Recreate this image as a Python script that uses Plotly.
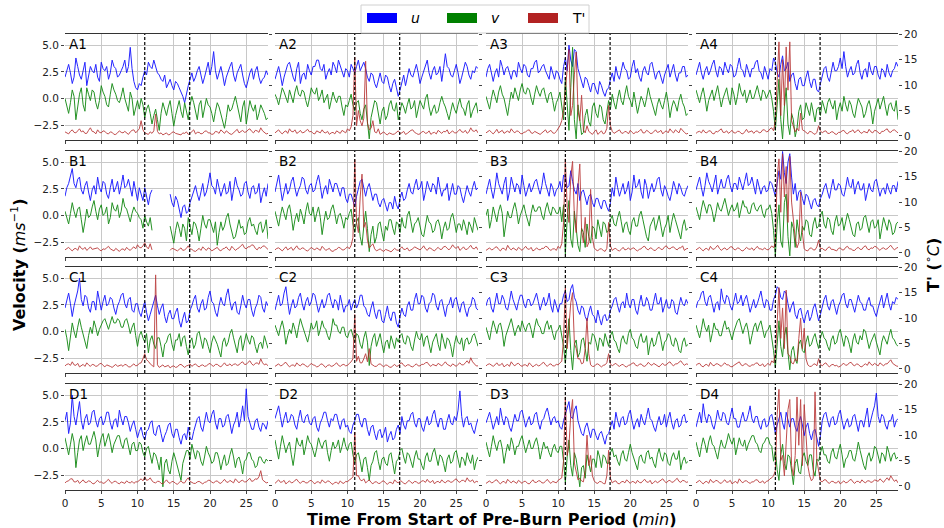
import numpy as np
import plotly.graph_objects as go
from plotly.subplots import make_subplots

# ---------------- data ----------------
# values stored in tenths: u, v in 0.1 m/s, T' in 0.1 degC ; one sample every 0.25 min from 0 to 28 min
row_letters = ["A", "B", "C", "D"]
col_numbers = ["1", "2", "3", "4"]
x_ticks = [0, 5, 10, 15, 20, 25]
vel_ticks = [-2.5, 0.0, 2.5, 5.0]
vel_ticktext = ["\u22122.5", "0.0", "2.5", "5.0"]
T_ticks = [0, 5, 10, 15, 20]
event_times = [11.0, 17.2]
legend_labels = ["<i>u</i>", "<i>v</i>", "T'"]
series_colors = ["#0000ff", "#008000", "#b22222"]
N = None

u_A1 = [20,26,32,24,14,20,38,30,22,18,28,34,12,22,30,26,24,32,20,16,34,28,26,30,18,24,36,30,28,20,22,26,30,36,24,30,48,28,16,10,8,14,12,20,26,22,34,30,28,36,30,24,22,18,16,22,10,14,18,12,8,16,14,10,6,2,-4,6,12,18,24,16,20,26,30,22,14,20,28,34,22,30,44,26,18,24,30,22,12,20,26,30,34,22,16,24,28,32,22,14,10,18,24,28,18,26,30,20,14,18,20,26,22]
v_A1 = [0,-6,-14,-4,8,2,-20,-8,4,10,-6,-12,10,4,-2,8,6,-4,-10,-2,12,6,2,-6,-8,4,14,8,4,-2,-4,2,10,0,-6,-12,6,0,-16,-8,-2,-10,0,-6,-18,-10,-6,-14,-24,-16,-10,-20,-30,-14,-4,-10,-16,-8,-2,-14,-26,-16,-8,-2,-12,-18,-4,-12,-20,-6,2,-4,-12,-20,-6,-2,-18,-10,0,-6,-8,-14,-22,-12,-4,-8,-14,-22,-28,-18,-6,-12,-10,-4,2,-6,-16,-22,-8,-2,-24,-14,-2,-8,-12,-6,-20,-14,-6,-10,-14,-20,-18]
T_A1 = [8,6,4,9,12,7,6,10,14,8,10,5,5,11,16,9,8,4,12,7,6,10,9,5,4,8,7,3,3,6,10,7,6,9,5,3,8,11,12,6,10,14,30,12,6,4,3,8,5,10,43,9,4,6,2,4,6,2,3,7,8,5,4,3,2,6,5,8,3,5,9,12,4,7,7,4,5,9,10,6,6,3,4,9,8,5,12,8,5,10,7,4,3,6,9,13,6,8,11,7,8,12,14,9,6,11,10,7,16,10,7,4,5]

u_A2 = [18,24,30,22,12,20,26,32,34,26,20,16,28,34,14,22,24,18,32,26,22,30,30,36,36,28,26,32,18,24,28,22,34,30,24,36,30,26,20,28,26,20,32,28,24,30,36,26,30,34,28,20,16,24,22,14,10,18,24,16,14,22,20,12,6,14,18,10,2,8,16,22,12,20,28,22,20,26,32,24,14,20,26,32,36,24,18,26,30,22,24,30,16,28,42,30,28,22,20,26,32,24,14,20,26,34,30,22,18,26,24,30,28]
v_A2 = [4,0,-6,2,10,6,0,-4,8,2,-4,6,12,4,2,8,6,-2,-8,0,10,6,4,10,-2,2,8,-4,0,4,-10,-2,6,0,-4,2,2,-8,-16,-6,-8,-2,4,-6,-12,-4,-2,-14,-20,-10,-6,-22,-38,-18,-10,-2,-4,-14,-24,-12,-8,-20,-16,-6,-2,-10,-12,-4,-20,-12,-4,-8,-14,-6,0,-10,-8,-2,-18,-10,-2,-6,-10,0,4,-8,-16,-10,-6,-14,-12,-4,2,-4,-8,-14,-20,-12,-4,-10,-14,-6,0,-8,-10,-16,-6,-2,-18,-12,-8,-4,-14]
T_A2 = [6,9,12,7,4,8,10,5,14,9,8,12,5,7,11,6,7,10,13,8,9,5,4,10,8,6,12,7,6,9,3,6,7,4,10,8,5,11,9,6,14,10,18,40,155,20,50,30,20,35,147,25,12,15,30,8,6,14,3,5,8,4,2,6,5,3,4,7,10,5,6,9,3,5,8,11,12,7,5,3,4,8,9,5,6,10,3,6,7,4,11,8,5,9,8,12,4,7,10,6,6,9,13,8,7,11,5,8,16,10,9,12,6]

u_A3 = [20,28,32,22,16,24,28,20,36,30,22,28,30,24,18,26,26,20,34,28,24,32,30,22,20,28,28,34,36,24,26,30,32,26,22,18,30,24,18,26,24,18,14,30,38,26,50,36,30,46,44,28,22,16,10,20,18,12,6,14,14,8,4,16,12,6,2,8,10,18,24,16,30,22,18,26,34,28,26,18,20,30,36,24,28,20,16,26,30,24,22,32,34,26,18,24,26,20,14,22,28,32,20,26,32,22,16,24,24,30,30,20,22]
v_A3 = [2,-4,-10,0,8,2,-4,6,12,4,0,-8,-16,-4,6,0,10,4,-2,8,14,6,4,10,8,0,-6,4,12,6,2,8,10,2,-4,4,6,-2,-12,-4,0,6,-8,-20,20,-10,-30,10,48,-20,-38,-6,-20,-34,-32,-16,-10,-22,-26,-8,-4,-14,-18,-6,-8,-20,-24,-12,-2,-10,4,-4,-10,0,8,-2,-6,4,12,2,-2,-8,6,-4,-14,-6,2,-2,-8,0,10,2,-4,-10,-16,-6,0,-6,-10,-2,6,-4,-18,-8,-2,-6,-12,-2,4,-4,-8,-16,-14]
T_A3 = [6,9,11,7,4,8,13,6,8,11,5,7,10,6,14,9,6,10,9,5,4,7,8,11,12,6,5,9,7,4,3,6,9,12,6,8,11,6,5,9,14,20,30,50,90,130,170,40,60,120,165,50,30,80,12,6,20,9,5,3,8,12,3,6,10,4,6,15,60,20,9,5,7,10,12,6,5,9,8,4,11,7,4,8,7,10,13,6,6,11,9,5,5,8,12,7,8,11,4,8,10,6,14,9,6,12,9,6,15,10,7,4,5]

u_A4 = [22,28,34,24,18,26,30,22,26,32,36,26,20,30,28,22,34,28,24,32,30,20,22,30,38,28,26,20,32,26,20,28,28,34,36,26,24,18,30,24,18,28,26,38,34,24,20,32,40,26,28,34,16,22,24,14,8,18,20,12,12,20,26,16,10,18,18,8,6,14,22,28,30,20,16,24,34,26,26,30,38,28,44,30,20,26,30,22,24,32,36,24,18,26,28,20,34,26,22,30,30,22,18,28,26,20,32,24,20,26,28,34,30]
v_A4 = [8,2,-4,4,10,0,-12,-2,4,8,-2,6,12,2,-8,0,6,10,0,-6,10,4,-6,2,14,6,2,8,-4,2,8,0,0,6,12,4,-2,8,6,0,4,8,0,-12,-30,-6,18,-20,-38,-8,10,-24,-34,-14,-20,-36,-28,-12,-6,-20,-18,-4,-10,-16,-4,-12,-22,-10,-8,-16,-2,-8,-14,-4,0,-6,-10,-2,-20,-10,-4,-12,2,-6,-12,-2,-6,-14,-18,-8,0,-4,-8,-18,-14,-6,-2,-10,-24,-12,-6,0,-10,-4,2,-8,-16,-6,-4,-10,-12,-2,-20]
T_A4 = [5,8,9,6,12,7,6,10,10,5,4,9,8,11,14,7,7,10,5,8,11,6,6,9,9,5,4,8,13,7,8,10,5,9,10,6,7,12,12,8,9,14,16,10,30,120,185,40,150,60,175,90,185,30,20,8,15,10,45,12,10,6,4,9,8,5,3,7,20,10,6,9,10,5,5,8,8,4,3,7,7,10,11,6,4,8,9,12,6,10,12,7,5,9,8,6,13,8,6,11,10,7,4,9,9,12,14,8,7,11,12,9,6]

u_B1 = [18,26,30,38,44,30,26,34,36,24,20,28,32,22,14,24,28,20,36,26,22,32,30,20,16,26,34,22,26,32,20,28,38,26,28,34,24,18,32,22,14,26,20,14,26,18,10,20,24,N,N,N,N,N,N,N,N,N,20,12,8,18,14,6,-2,8,10,2,4,12,18,24,28,20,14,22,30,18,22,30,40,28,26,20,34,26,18,24,30,20,22,32,14,24,36,28,24,18,20,30,32,22,16,26,28,20,22,30,12,20,26,18,30]
v_B1 = [4,-2,-8,2,12,4,-2,6,8,-4,-16,-6,6,-2,0,8,14,4,-4,6,10,0,2,8,-8,-2,12,6,4,10,-2,4,16,8,6,0,-6,2,8,4,2,-2,-4,-12,0,-6,-10,-2,-14,N,N,N,N,N,N,N,N,N,-10,-18,-26,-14,-6,-12,-20,-8,-12,-24,-2,-10,-18,-6,-8,-14,-24,-12,0,-8,-12,-4,-4,-10,-16,-6,-28,-16,-6,-14,-10,-2,2,-8,-14,-22,-20,-10,-4,-12,-10,-18,-16,-6,-2,-10,-8,-14,-18,-8,-6,-16,-12,-4,-22]
T_B1 = [6,9,11,7,4,8,9,5,14,9,7,11,5,8,12,7,8,10,10,6,4,8,7,10,13,8,6,4,9,6,3,7,8,5,11,7,5,9,12,8,16,11,10,14,20,12,8,18,6,N,N,N,N,N,N,N,N,N,5,9,8,6,4,7,10,5,6,9,14,8,7,4,3,6,9,5,12,8,5,10,8,4,6,9,11,6,4,8,9,12,7,5,13,9,5,8,10,14,17,10,8,12,12,16,15,9,6,11,9,13,14,10,7]

u_B2 = [22,30,38,26,14,22,30,20,24,32,36,26,18,24,28,36,34,24,20,28,30,22,24,32,38,28,16,24,28,20,34,28,22,30,30,24,18,26,26,16,12,20,20,14,8,18,26,32,34,24,18,26,30,22,14,20,20,12,8,14,16,10,4,12,12,6,18,10,6,16,22,14,16,24,30,22,20,28,34,24,26,32,14,22,32,26,22,30,28,20,36,26,18,24,24,30,14,22,30,20,20,28,26,18,12,20,28,22,18,26,32,24,26]
v_B2 = [4,-2,-10,0,8,2,-4,6,10,0,-14,-4,2,-6,6,0,-8,4,12,2,0,8,-6,2,8,-2,-18,-6,4,-4,-2,6,10,2,-8,0,2,-4,-12,-2,-4,2,6,-8,-16,-6,-2,-20,-28,-10,4,-12,-34,-18,-10,-26,-20,-8,-6,-16,-24,-10,-14,-4,-4,-12,-18,-6,-8,-16,-2,-10,-12,0,4,-6,-16,-8,-6,-2,-10,-18,-20,-8,0,-6,-8,-16,-14,-6,-4,-10,-22,-12,-6,-14,-12,-2,2,-6,-16,-8,-8,-14,-4,-10,-18,-6,-10,-16,-2,-8,-14]
T_B2 = [6,9,10,7,4,8,12,6,8,11,5,9,14,8,7,10,9,5,4,7,11,8,6,10,8,5,13,9,5,7,9,4,3,6,7,11,10,6,6,9,12,8,15,30,184,60,40,110,155,50,60,25,10,14,18,8,4,6,8,5,3,7,6,4,2,5,9,6,5,8,12,7,7,10,4,6,8,12,10,7,6,9,14,8,5,10,9,6,4,8,11,7,7,12,13,9,6,10,16,11,9,13,5,8,12,7,7,11,15,9,8,12,6]

u_B3 = [20,28,34,24,16,26,40,30,24,20,30,36,14,22,36,28,22,30,28,20,38,28,18,24,30,22,26,32,34,26,20,28,40,30,24,18,30,26,18,24,26,32,22,38,36,26,28,42,32,24,20,30,14,22,24,16,10,18,20,12,8,16,16,10,6,14,14,8,4,12,26,18,36,26,18,24,30,20,24,32,14,22,38,26,28,34,22,16,34,28,16,24,30,22,26,34,36,24,18,28,24,18,14,22,32,26,20,30,26,20,18,24,28]
v_B3 = [0,6,-12,-4,8,0,-6,4,10,2,-20,-8,4,-2,-2,6,12,4,-8,0,6,10,2,-4,-10,2,10,4,4,8,8,0,-4,6,12,4,0,8,6,2,2,8,-6,10,-36,-4,14,-22,-30,4,-10,-28,-34,-12,-16,-30,-8,-20,-26,-10,-12,-22,-4,-14,-20,-6,-8,-16,-14,-4,0,-8,-10,-2,4,-6,-16,-8,-6,-14,-18,-6,-2,-10,-10,0,4,-4,-12,-20,-24,-10,-6,-2,-14,-6,0,-10,-20,-12,-8,0,-16,-6,2,-4,-10,-16,-22,-10,-4,-14,-12]
T_B3 = [5,8,10,6,7,11,12,7,4,9,9,5,15,9,6,10,8,5,11,7,5,9,13,8,7,11,4,6,10,7,6,9,9,13,12,7,5,8,8,5,13,9,18,60,185,90,60,150,180,70,40,130,175,45,20,70,12,20,125,30,10,6,4,8,8,5,3,9,60,14,5,8,9,5,4,7,11,6,7,10,6,9,10,6,4,7,8,12,13,8,6,10,9,5,5,9,11,7,7,12,14,9,8,11,12,8,6,10,10,14,5,8,9]

u_B4 = [24,30,36,26,18,28,40,32,28,22,32,38,20,28,34,26,26,34,38,28,22,30,30,24,36,30,24,32,40,28,30,36,26,20,34,28,20,26,28,22,24,32,30,24,18,30,42,34,60,40,30,50,58,36,20,30,14,22,24,16,10,20,18,12,6,14,16,10,8,16,20,26,30,22,16,26,34,24,24,30,28,20,18,26,36,28,26,34,20,28,32,24,24,30,14,22,30,24,22,32,34,26,18,24,26,20,30,24,20,28,28,22,32]
v_B4 = [8,2,-4,6,14,8,2,10,10,4,-6,2,12,6,4,10,16,8,0,6,10,4,6,12,-2,6,14,8,8,2,2,10,12,6,4,8,10,2,-2,6,6,10,2,-14,-38,-8,10,-24,-30,12,20,-20,-38,-6,-12,-30,-4,-16,-24,-10,-14,-4,-6,-18,-20,-8,-2,-12,-10,0,4,-8,-12,-2,-4,-14,-18,-6,0,-10,-8,-2,-14,-6,2,-4,-10,-18,-20,-8,-6,-14,-12,-2,0,-8,-16,-6,-4,-12,-10,-4,-22,-12,-2,-8,-14,-4,-8,-18,-16,-8,-6]
T_B4 = [6,9,11,7,4,8,9,5,13,8,7,11,15,9,5,8,10,6,8,12,12,7,6,10,9,5,4,7,11,8,7,10,5,9,13,8,8,6,10,7,6,9,14,10,20,150,185,80,195,110,170,60,190,100,60,30,10,20,120,40,8,5,4,9,10,6,6,12,25,8,9,6,5,10,12,7,7,5,4,9,10,6,6,11,13,8,8,5,5,9,11,7,7,12,14,8,6,10,9,13,12,8,5,9,10,7,8,12,15,10,6,9,11]

u_C1 = [22,28,36,26,14,24,30,38,50,30,24,34,32,22,18,28,28,20,38,30,20,28,34,24,26,32,30,22,16,24,28,34,36,26,22,30,32,20,18,26,26,18,14,22,28,18,10,16,22,30,34,24,16,22,26,14,8,16,20,12,12,18,22,10,4,12,18,8,10,20,24,30,34,22,18,26,30,20,22,32,38,28,26,18,14,24,32,26,24,34,40,28,20,26,28,18,16,24,34,26,22,30,30,20,14,22,26,34,32,22,18,28,24]
v_C1 = [2,-6,-18,-4,8,0,-6,4,12,4,-2,-8,-16,-4,4,-2,10,4,-4,2,6,10,12,6,2,8,14,8,8,12,10,4,4,10,12,6,-2,4,8,-4,-14,-4,0,-6,-10,-2,-20,-8,-4,-12,-16,-6,-6,-14,-24,-12,-10,-4,-2,-12,-18,-8,-8,-2,-14,-6,-4,-14,-22,-10,-6,-16,-12,-2,0,-8,-16,-6,-8,-14,-20,-10,-4,-8,-12,-18,-24,-10,-6,-14,-10,-2,2,-6,-14,-20,-8,-4,-18,-10,-2,-8,-12,-4,-6,-14,-20,-12,-10,-16,-4,-10,-16]
T_C1 = [6,9,10,7,14,8,7,11,4,7,9,5,12,8,5,9,8,5,6,10,11,7,4,8,7,5,3,6,9,5,6,8,5,9,8,4,4,7,10,6,7,11,12,20,30,18,15,10,6,4,185,8,3,5,8,4,5,7,2,5,6,3,4,8,9,5,3,6,7,10,5,8,10,6,4,7,8,5,6,9,11,7,5,9,9,6,4,8,12,7,7,10,6,9,10,7,8,12,14,9,9,13,16,10,7,11,12,9,20,12,8,10,6]

u_C2 = [20,28,34,24,26,36,42,28,16,24,30,22,24,32,36,26,20,28,32,24,28,36,34,26,18,24,30,22,26,34,36,28,22,30,28,20,34,26,18,24,24,30,20,26,30,22,26,34,34,24,22,16,14,22,28,18,12,20,20,10,8,16,24,14,10,18,18,8,4,14,22,16,14,24,28,20,20,30,36,26,26,34,32,22,18,26,28,36,34,24,20,28,30,22,14,24,26,32,22,30,32,24,18,26,28,20,14,22,24,32,30,22,20]
v_C2 = [6,0,-4,4,10,2,-12,-4,2,-2,8,2,-6,4,12,6,0,-6,-10,-2,8,2,4,10,-4,2,10,4,2,-4,-8,0,12,6,6,0,-2,4,4,-4,-6,0,2,-4,-10,-2,-4,-12,-16,-6,0,-10,-32,-14,-6,-2,-14,-8,-2,-12,-20,-10,-8,-16,-4,-10,-16,-6,-10,-4,-2,-10,-12,-4,-6,-14,-18,-8,0,-6,-8,-2,-14,-6,-4,-12,-20,-10,-6,-2,-12,-18,-2,-8,-16,-6,-8,-14,-24,-12,-4,-10,-12,-6,-18,-8,-6,-12,-10,-4,-2,-8,-14]
T_C2 = [5,8,10,6,7,11,13,8,4,7,8,5,12,8,6,10,9,6,4,7,11,8,7,4,5,9,10,6,3,7,8,5,6,9,12,7,5,8,9,6,7,11,14,20,107,15,25,12,12,20,30,14,40,10,8,5,5,9,10,6,4,8,7,4,3,6,9,5,6,10,12,7,5,8,8,5,4,7,10,6,6,9,9,12,13,8,5,9,8,6,11,8,6,10,14,9,7,5,10,7,5,9,12,8,8,12,16,11,22,14,9,6,6]

u_C3 = [24,30,32,22,18,28,36,26,26,34,30,22,20,28,38,30,24,20,28,34,34,26,22,30,30,24,26,32,36,28,20,26,32,24,28,36,24,18,30,24,18,26,26,34,38,28,30,40,44,32,28,20,16,24,22,14,10,18,24,16,14,8,20,12,6,14,16,10,12,20,24,30,32,24,18,26,28,22,36,26,22,30,30,20,16,26,34,24,24,32,28,20,20,28,36,26,26,32,18,24,30,22,22,30,28,18,16,24,32,26,24,30,26]
v_C3 = [4,-2,-8,2,10,4,-2,6,8,0,-14,-4,2,8,12,4,-4,2,6,0,10,4,0,6,8,2,-6,4,12,6,4,-2,-2,6,10,2,6,-2,-8,0,2,6,-4,-14,-30,-6,12,-18,-36,-12,-8,-24,-20,-8,-6,-16,-28,-10,-12,-2,-4,-10,-18,-6,-8,-14,-2,-8,-14,-4,0,-8,-10,-16,-20,-8,-4,-10,-12,-2,2,-6,-8,-14,-16,-6,-2,-10,-10,-4,-22,-12,-6,-14,-12,-4,0,-8,-18,-10,-8,-2,-4,-12,-14,-6,-10,-18,-20,-10,-6,-14,-12]
T_C3 = [6,9,10,7,5,8,12,7,8,11,4,7,9,5,14,9,6,10,11,7,5,8,8,5,12,8,4,7,9,6,7,11,13,8,5,9,10,6,6,9,8,12,15,60,160,40,90,130,150,50,40,20,20,10,12,40,100,30,8,5,5,9,10,6,4,7,8,12,30,10,6,9,11,7,5,8,9,5,4,7,8,11,12,7,6,9,10,6,5,8,13,9,7,11,9,6,4,8,11,7,8,12,14,9,6,10,10,13,16,11,7,10,9]

u_C4 = [22,28,30,36,38,28,24,32,34,24,18,26,28,20,40,30,26,34,32,24,20,28,36,26,28,34,24,30,34,26,18,24,30,22,26,32,38,28,22,30,28,20,20,30,34,42,40,32,30,38,36,26,18,24,28,16,12,20,22,14,8,16,20,10,14,22,26,18,10,16,24,30,34,24,20,28,30,22,16,24,28,34,36,26,22,30,30,24,18,26,34,28,26,20,20,28,32,24,24,18,14,22,28,34,22,30,36,26,20,28,26,32,30]
v_C4 = [6,0,-6,2,12,4,0,6,-10,-2,8,2,2,-4,-4,4,10,2,4,-2,-8,0,6,10,12,4,-2,4,8,0,-12,-4,4,8,0,6,10,2,-6,0,2,6,-4,-18,-34,-8,10,-14,-24,-4,4,-20,-36,-18,-14,-26,-30,-12,-8,-18,-20,-10,-4,-14,-12,-6,-2,-10,-16,-6,0,-6,-8,-14,-18,-8,-4,-12,-10,-2,2,-6,-14,-4,-6,-12,-20,-8,-2,-10,-12,-4,-8,2,0,-8,-16,-10,-6,-2,-10,-16,-22,-10,-4,-8,-12,-4,2,-6,-8,-12,-14]
T_C4 = [7,10,11,6,4,8,9,5,13,8,6,10,10,7,5,9,12,8,8,5,4,7,9,12,14,8,6,10,10,6,5,8,8,11,12,7,7,10,4,8,11,7,16,12,30,90,160,60,120,40,155,30,25,12,10,20,15,60,100,40,80,20,8,5,5,9,10,6,20,9,6,10,12,7,4,8,9,6,7,4,5,9,11,7,8,12,13,8,6,10,9,5,4,8,10,7,14,9,7,11,9,6,12,9,6,10,10,14,18,11,8,6,5]

u_D1 = [26,34,14,24,50,30,22,32,44,26,18,28,32,22,24,34,36,26,20,28,30,22,26,34,34,24,18,26,28,20,36,28,22,30,30,24,16,22,26,18,10,16,20,12,8,16,18,24,26,14,12,20,22,14,6,12,16,22,24,14,10,18,18,10,4,12,14,8,20,10,8,16,22,28,30,20,16,24,34,26,24,32,36,24,18,28,28,20,22,30,32,24,14,22,26,34,20,28,40,26,56,30,24,18,18,26,28,20,16,24,22,18,26]
v_D1 = [10,2,-6,4,14,6,-18,-4,8,12,-2,6,12,4,4,10,16,8,-8,2,10,14,2,8,14,6,-4,4,8,12,12,4,0,8,10,2,-6,4,6,-2,-2,6,4,-4,-8,0,2,-6,-14,-4,-6,-12,-20,-8,-36,-14,-10,-20,-24,-12,-4,-10,-16,-24,-30,-14,-8,-2,-2,-10,4,-4,-10,-2,-4,-12,-16,-8,2,-4,-8,-14,-12,-4,-4,-10,-20,-12,-6,-16,-14,-6,0,-8,-18,-10,-8,-14,-24,-12,-10,-4,-4,-10,-12,-18,-16,-8,-8,-12,-14,-10,-12]
T_D1 = [6,9,10,14,14,8,8,11,5,8,12,7,7,10,9,5,4,8,11,7,8,5,6,10,13,8,5,9,9,6,4,8,7,5,10,7,6,9,5,8,8,12,14,10,18,11,12,16,10,7,6,9,9,5,4,8,12,7,5,9,8,5,3,7,10,6,6,12,16,9,7,5,5,8,9,6,4,7,8,11,11,7,6,9,10,6,5,9,13,8,7,11,9,6,14,9,6,10,11,8,8,12,15,9,10,14,13,18,30,12,9,6,7]

u_D2 = [28,34,40,30,20,28,34,24,26,32,30,22,18,28,36,26,24,30,32,24,22,28,30,20,16,24,28,34,34,26,20,28,26,32,32,24,18,26,28,20,22,16,14,22,26,32,32,24,20,28,28,18,12,20,22,14,8,16,18,10,14,20,6,12,16,8,10,18,22,14,30,22,18,26,26,32,34,24,20,28,28,20,16,24,30,22,24,32,36,26,20,28,28,18,18,26,32,24,22,30,26,36,54,30,20,28,30,22,24,18,14,22,28]
v_D2 = [8,0,-10,2,12,4,-4,2,6,-6,-16,-4,10,4,2,8,-6,2,12,6,4,-2,-8,0,10,4,0,6,8,-4,-12,-2,6,0,2,8,-4,2,10,2,-2,4,6,-6,-14,-6,-4,-12,-22,-10,-8,-18,-30,-16,-12,-4,-2,-12,-20,-10,-8,-14,-16,-6,-4,-14,-24,-12,-10,-2,0,-8,-14,-4,-6,-12,-18,-8,-2,-10,-10,-16,-20,-8,-4,-12,-12,-4,0,-8,-16,-6,-8,-14,-22,-10,-6,-14,-12,-4,-2,-10,-18,-8,-10,-16,-4,-10,-14,-6,-20,-12,-8]
T_D2 = [5,9,12,7,8,11,4,7,10,6,7,11,13,8,5,9,9,6,6,10,11,7,4,8,8,5,12,8,6,10,9,5,3,7,7,4,10,6,5,9,8,12,14,18,106,20,20,12,10,14,6,9,12,7,4,8,8,5,5,9,10,6,3,7,7,4,12,8,6,10,9,5,4,8,11,7,5,9,8,5,6,10,10,7,13,8,7,11,4,8,9,6,12,8,6,10,10,7,8,12,14,9,7,11,11,8,16,10,9,12,6,9,8]

u_D3 = [24,30,34,26,18,24,30,22,38,28,22,30,28,20,16,24,32,26,26,34,36,28,20,26,30,22,24,32,34,24,18,26,28,34,38,30,22,28,30,24,26,20,18,26,32,38,44,30,28,36,40,26,20,14,12,20,24,16,10,18,18,12,8,14,16,10,4,12,14,20,26,18,34,26,20,28,30,22,24,32,36,26,18,24,28,20,32,26,22,30,38,28,26,20,16,24,30,22,24,32,20,28,34,24,18,26,28,20,22,30,32,24,26]
v_D3 = [6,0,-8,2,12,4,-2,6,8,0,-14,-4,4,-2,10,4,-6,2,2,8,12,4,-4,2,8,0,0,6,10,2,-10,-2,6,0,2,-4,-8,0,4,-2,-4,2,2,-12,-32,-8,8,-16,-26,-4,-10,-22,-36,-18,-16,-28,-6,-14,-22,-10,-10,-18,-2,-8,-18,-6,-8,-14,-14,-4,0,-8,-6,-12,-16,-6,-2,-10,-12,-4,4,-4,-10,-16,-20,-8,-6,-12,-14,-4,-2,-10,-8,-14,-18,-6,0,-8,-12,-4,-6,-14,-16,-8,-4,-10,-10,-2,-20,-12,-8,-14,-12]
T_D3 = [5,8,10,6,7,11,12,7,4,8,9,5,13,9,6,10,8,5,11,7,5,9,9,5,4,8,12,7,7,10,10,6,6,9,13,8,5,9,8,6,11,14,16,50,175,60,80,140,170,45,30,12,15,10,8,30,100,40,60,20,10,6,5,9,8,5,4,20,70,15,6,9,10,5,4,8,9,6,12,8,5,9,8,5,11,7,6,10,13,8,7,11,4,7,10,6,9,12,14,9,6,10,11,7,8,12,15,9,7,11,10,7,8]

u_D4 = [20,28,34,24,42,30,24,32,30,22,18,26,36,28,26,34,32,24,22,30,38,28,28,20,20,28,34,26,26,32,40,28,24,30,30,22,18,26,28,20,22,30,32,24,14,22,28,34,24,18,34,26,20,28,28,20,16,24,30,22,12,20,24,14,8,16,18,10,2,12,26,32,34,26,20,28,30,22,24,32,36,26,18,24,28,20,22,30,32,24,16,26,26,20,30,38,20,28,34,40,52,30,24,32,30,22,18,26,26,32,20,26,28]
v_D4 = [6,0,-8,2,10,4,-4,6,12,4,2,-4,-10,0,8,2,0,6,14,8,4,10,-6,2,10,4,2,8,-2,4,8,12,12,6,4,-2,-4,4,6,10,10,4,2,-12,-2,-20,-30,-6,4,-14,-20,-6,-8,-24,-34,-14,-10,-22,-24,-8,-4,-12,-16,-6,-6,-20,-26,-10,-12,-4,2,-6,-6,-12,-14,-4,0,-8,-10,-2,4,-6,-18,-10,-8,-2,-2,-10,-12,-4,6,-2,-10,-16,-20,-8,-4,-12,-8,2,0,-6,-14,-4,-6,-12,2,-4,-12,-6,-4,-10,-8]
T_D4 = [6,9,11,7,4,8,9,5,13,8,7,11,10,6,5,9,12,7,8,11,4,7,9,5,14,9,6,10,10,7,5,8,8,12,12,7,7,10,5,9,10,14,16,20,30,140,190,50,60,20,80,150,170,40,20,60,175,80,170,40,160,100,40,20,10,15,185,50,30,10,8,12,12,7,5,9,9,6,6,10,4,8,10,6,7,11,13,8,5,9,9,6,12,8,6,10,10,7,8,12,11,9,14,10,7,12,16,11,20,14,9,12,6]

panels = {
    "A1": (u_A1, v_A1, T_A1), "A2": (u_A2, v_A2, T_A2), "A3": (u_A3, v_A3, T_A3), "A4": (u_A4, v_A4, T_A4),
    "B1": (u_B1, v_B1, T_B1), "B2": (u_B2, v_B2, T_B2), "B3": (u_B3, v_B3, T_B3), "B4": (u_B4, v_B4, T_B4),
    "C1": (u_C1, v_C1, T_C1), "C2": (u_C2, v_C2, T_C2), "C3": (u_C3, v_C3, T_C3), "C4": (u_C4, v_C4, T_C4),
    "D1": (u_D1, v_D1, T_D1), "D2": (u_D2, v_D2, T_D2), "D3": (u_D3, v_D3, T_D3), "D4": (u_D4, v_D4, T_D4),
}


def to_arr(lst, scale=0.1):
    return np.array([np.nan if val is None else val * scale for val in lst], dtype=float)


# ---------------- figure ----------------
W, H = 944, 528
ML, MR, MT, MB = 65, 46, 34, 38
FONT = "DejaVu Sans"
PW = W - ML - MR
PH = H - MT - MB


def px_x(p):
    return (p - ML) / PW


def px_y(p):
    return (H - MB - p) / PH


# panel placement in pixels (layout only)
col_px = [(65, 268), (275, 478), (486, 688), (696, 898)]
row_px = [(34, 140), (151, 257), (267, 373), (384, 490)]

fig = make_subplots(rows=4, cols=4,
                    specs=[[{"secondary_y": True}] * 4 for _ in range(4)],
                    horizontal_spacing=0.0095, vertical_spacing=0.0235)

for ri, rl in enumerate(row_letters):
    for ci, cn in enumerate(col_numbers):
        name = rl + cn
        u_s, v_s, T_s = panels[name]
        r, c = ri + 1, ci + 1
        for vals, col, sec, op in ((u_s, series_colors[0], False, 0.85),
                                   (v_s, series_colors[1], False, 0.85),
                                   (T_s, series_colors[2], True, 0.8)):
            arr = to_arr(vals)
            t = np.linspace(0, 28, len(arr))
            fig.add_trace(go.Scatter(x=t, y=arr, mode="lines",
                                     line=dict(color=col, width=1), opacity=op,
                                     showlegend=False, hoverinfo="skip"),
                          row=r, col=c, secondary_y=sec)
        for et in event_times:
            fig.add_vline(x=et, line=dict(color="black", width=1.2, dash="3px,2px"), row=r, col=c)
        k = ri * 4 + ci
        xname = "xaxis" if k == 0 else f"xaxis{k+1}"
        y1name = "yaxis" if k == 0 else f"yaxis{2*k+1}"
        y2name = f"yaxis{2*k+2}"
        xd = [px_x(col_px[ci][0]), px_x(col_px[ci][1])]
        yd = [px_y(row_px[ri][1]), px_y(row_px[ri][0])]
        fig.layout[xname].domain = xd
        fig.layout[y1name].domain = yd
        fig.layout[y2name].domain = yd

        xr = "x domain" if k == 0 else f"x{k+1} domain"
        yr = "y domain" if k == 0 else f"y{2*k+1} domain"
        fig.add_annotation(text=name, xref=xr, yref=yr, x=0.01, y=1.0,
                           xanchor="left", yanchor="top", showarrow=False,
                           font=dict(family=FONT, size=13.5, color="black"))
        fig.update_xaxes(range=[0, 28], tickvals=x_ticks, showticklabels=(ri == 3),
                         ticks="outside", ticklen=3, tickcolor="#444",
                         showgrid=True, gridcolor="#c8c8c8", gridwidth=1, zeroline=False,
                         showline=True, mirror=True, linecolor="#333", linewidth=1,
                         tickfont=dict(family=FONT, size=10.5, color="#222"),
                         row=r, col=c)
        fig.update_yaxes(range=[-3.9, 6.05], tickvals=vel_ticks, ticktext=vel_ticktext,
                         showticklabels=(ci == 0), ticks="outside" if ci == 0 else "", ticklen=3,
                         tickcolor="#444",
                         showgrid=True, gridcolor="#c8c8c8", gridwidth=1, zeroline=False,
                         showline=False,
                         tickfont=dict(family=FONT, size=10.5, color="#222"),
                         row=r, col=c, secondary_y=False)
        fig.update_yaxes(range=[-0.8, 20.05], tickvals=T_ticks,
                         showticklabels=(ci == 3), ticks="outside", ticklen=3, tickcolor="#444",
                         showgrid=False, zeroline=False, showline=False,
                         tickfont=dict(family=FONT, size=10.5, color="#222"),
                         row=r, col=c, secondary_y=True)

# axis titles
fig.add_annotation(text="<b>Velocity (</b><i>ms</i><sup>\u22121</sup><b>)</b>",
                   xref="paper", yref="paper", x=px_x(18), y=px_y(265), textangle=-90,
                   xanchor="center", yanchor="middle",
                   showarrow=False, font=dict(family=FONT, size=16, color="black"))
fig.add_annotation(text="<b>T' (</b><sup>\u2218</sup><i>C</i><b>)</b>",
                   xref="paper", yref="paper", x=px_x(932), y=px_y(265), textangle=-90,
                   xanchor="center", yanchor="middle",
                   showarrow=False, font=dict(family=FONT, size=16, color="black"))
fig.add_annotation(text="<b>Time From Start of Pre-Burn Period (</b><i>min</i><b>)</b>",
                   xref="paper", yref="paper", x=px_x(491), y=px_y(519),
                   xanchor="center", yanchor="middle",
                   showarrow=False, font=dict(family=FONT, size=16, color="black"))

# legend (drawn manually)
fig.add_shape(type="rect", xref="paper", yref="paper",
              x0=px_x(361), x1=px_x(589), y0=px_y(33), y1=px_y(5),
              line=dict(color="#d0d0d0", width=1), fillcolor="white", layer="above")
sym_x = [367, 447, 528]
for lab, col, sx in zip(legend_labels, series_colors, sym_x):
    fig.add_shape(type="rect", xref="paper", yref="paper",
                  x0=px_x(sx), x1=px_x(sx + 30), y0=px_y(23), y1=px_y(13),
                  line=dict(color=col, width=0), fillcolor=col, layer="above")
    fig.add_annotation(text=lab, xref="paper", yref="paper", x=px_x(sx + 42), y=px_y(18),
                       xanchor="left", yanchor="middle", showarrow=False,
                       font=dict(family=FONT, size=14, color="black"))

fig.update_layout(width=W, height=H, margin=dict(l=ML, r=MR, t=MT, b=MB, autoexpand=False),
                  plot_bgcolor="white", paper_bgcolor="white",
                  font=dict(family=FONT, size=11, color="black"),
                  showlegend=False)

fig.write_html("out.html", config={"displayModeBar": False},
               post_script="document.body.style.margin='0px';")
